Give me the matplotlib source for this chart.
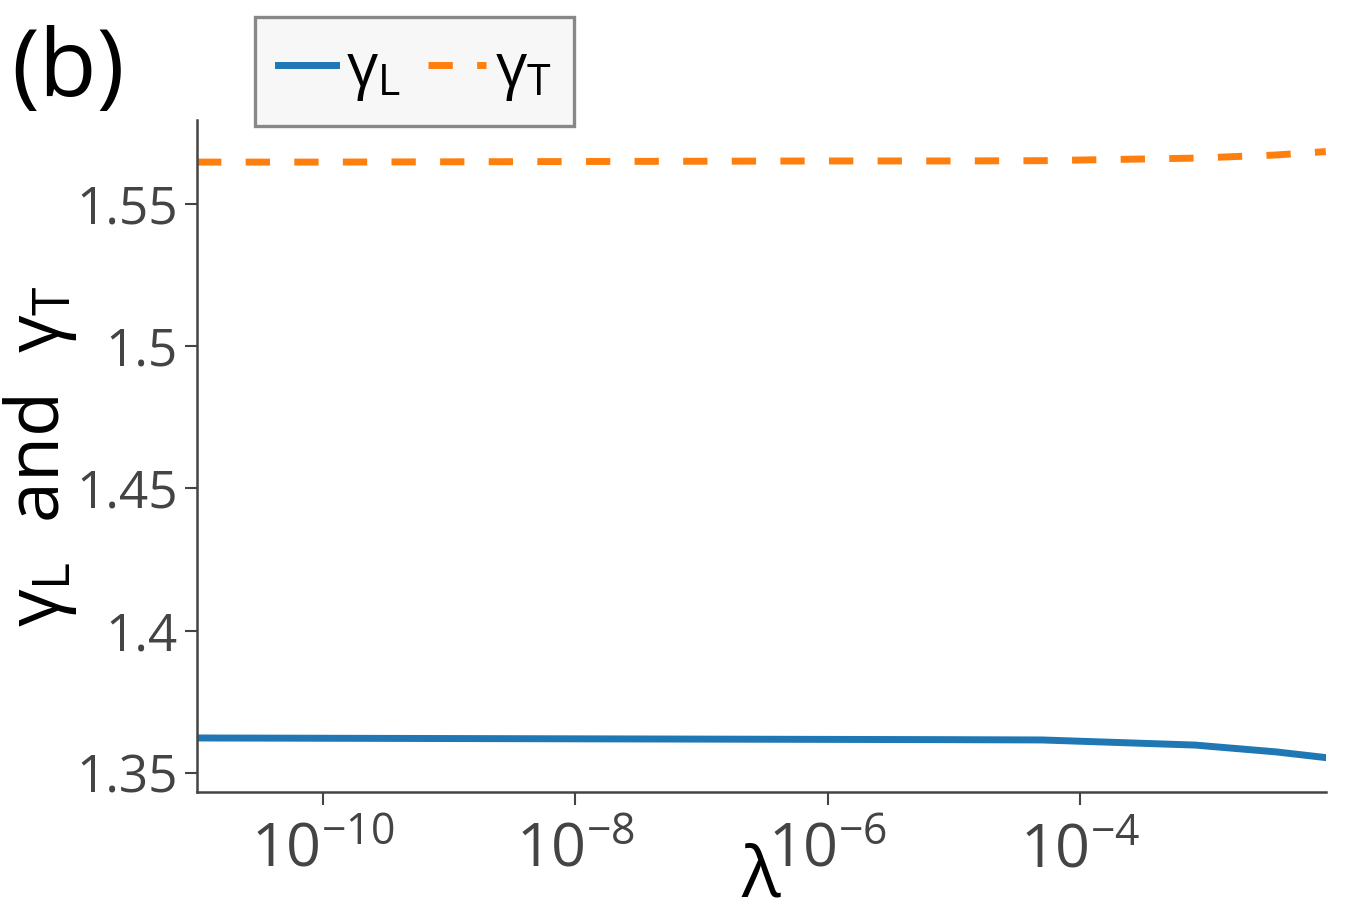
"""
gamma_L y gamma_T frente a lambda (panel b)
"""

import matplotlib
matplotlib.use("Agg")
import matplotlib.pyplot as plt

plt.rcParams['font.family'] = ['Open Sans', 'DejaVu Sans']
plt.rcParams['mathtext.fontset'] = 'custom'
plt.rcParams['mathtext.rm'] = 'Open Sans'
plt.rcParams['mathtext.it'] = 'Open Sans'
plt.rcParams['mathtext.bf'] = 'Open Sans:bold'
plt.rcParams['mathtext.sf'] = 'Open Sans'

# Datos
lambdas = [1e-11, 1e-10, 1e-9, 1e-8, 1e-7, 1e-6, 1e-5, 5e-5, 8.2e-4, 3.6e-3, 8.9e-3]
gamma_L = [1.3623, 1.3622, 1.3621, 1.3620, 1.3619, 1.3618, 1.3617, 1.3616, 1.3598, 1.3574, 1.3554]
gamma_T = [1.5647, 1.5647, 1.5648, 1.5649, 1.5650, 1.5651, 1.5651, 1.5652, 1.5661, 1.5672, 1.5684]

xticks = [1e-10, 1e-8, 1e-6, 1e-4]
yticks = [1.35, 1.4, 1.45, 1.5, 1.55]
ytick_labels = ["1.35", "1.4", "1.45", "1.5", "1.55"]

gris = "#444444"

fig = plt.figure(figsize=(13.46, 9.23), dpi=100)
ax = fig.add_axes([0.1464, 0.1419, 0.8386, 0.7281])

ax.plot(lambdas, gamma_L, color="#1f77b4", linewidth=5, label=r"$\gamma_\mathrm{L}$")
ax.plot(lambdas, gamma_T, color="#ff7f0e", linewidth=5, dashes=(3.5, 3.5),
        label=r"$\gamma_\mathrm{T}$")

ax.set_xscale("log")
ax.set_xlim(lambdas[0], lambdas[-1])
ax.set_xticks(xticks)
ax.set_ylim(1.3433, 1.5795)
ax.set_yticks(yticks)
ax.set_yticklabels(ytick_labels)
ax.minorticks_off()

for lado in ["top", "right"]:
    ax.spines[lado].set_visible(False)
for lado in ["left", "bottom"]:
    ax.spines[lado].set_color(gris)
    ax.spines[lado].set_linewidth(1.8)

ax.tick_params(axis="y", labelsize=37, colors=gris, length=9, width=1.5, pad=5)
ax.tick_params(axis="x", labelsize=44, colors=gris, length=9, width=1.5, pad=12)

ax.set_xlabel(r"$\lambda$", fontsize=52, labelpad=-28)
ax.set_ylabel(r"$\gamma_\mathrm{L}$  and  $\gamma_\mathrm{T}$", fontsize=53, labelpad=-2)

leg = fig.legend(loc="upper left", bbox_to_anchor=(0.1895, 0.9816), ncol=2,
                 fontsize=44, frameon=True, fancybox=False, handlelength=0.95,
                 handletextpad=0.15, columnspacing=0.45, borderpad=0.38,
                 borderaxespad=0)
leg.get_frame().set_facecolor("#f7f7f7")
leg.get_frame().set_edgecolor("#888888")
leg.get_frame().set_linewidth(2.4)
leg.get_frame().set_alpha(1)

fig.text(0.008, 0.922, "(b)", fontsize=68, ha="left", va="center")

fig.savefig("out.png", dpi=100)
